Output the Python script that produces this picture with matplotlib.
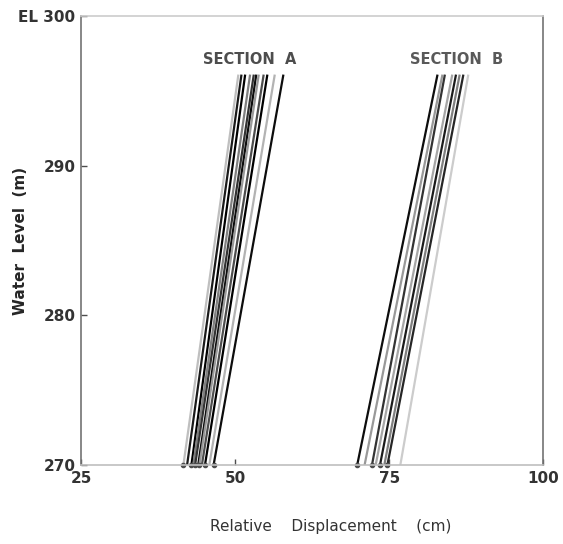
#!/usr/bin/env python3
import matplotlib
matplotlib.use("Agg")
import matplotlib.pyplot as plt

# line end points (displacement in cm at EL 270 and at EL 296)
level_bottom = 270
level_top = 296
sec_a_bottom = [41.6, 42.2, 42.9, 43.2, 43.5, 44.0, 44.2, 44.6, 45.1, 45.8, 46.5]
sec_a_top = [50.5, 51.0, 51.6, 52.4, 53.0, 53.4, 53.8, 54.6, 55.2, 56.4, 57.8]
sec_a_shade = ["0.75", "0.1", "0.0", "0.5", "0.2", "0.05", "0.6", "0.3", "0.0", "0.7", "0.05"]

sec_b_bottom = [69.8, 71.0, 72.2, 72.8, 73.5, 74.2, 74.7, 76.8]
sec_b_top = [82.8, 83.6, 84.0, 85.2, 85.8, 86.4, 87.0, 87.8]
sec_b_shade = ["0.05", "0.6", "0.2", "0.65", "0.1", "0.5", "0.15", "0.8"]

x_ticks = [25, 50, 75, 100]
y_ticks = [270, 280, 290, 300]
y_tick_labels = ["270", "280", "290", "EL 300"]


def plot_sections() -> None:
    fig = plt.figure(figsize=(5.63, 5.44), dpi=100)
    ax = fig.add_axes([0.144, 0.145, 0.821, 0.826])
    ax.set_xlim(25, 100)
    ax.set_ylim(270, 300)

    for xb, xt, c in zip(sec_a_bottom, sec_a_top, sec_a_shade):
        ax.plot([xb, xt], [level_bottom, level_top], color=c, lw=1.6)
    for xb, xt, c in zip(sec_b_bottom, sec_b_top, sec_b_shade):
        ax.plot([xb, xt], [level_bottom, level_top], color=c, lw=1.6)
    ax.plot(sec_a_bottom[::2] + sec_b_bottom[::2],
            [level_bottom] * len(sec_a_bottom[::2] + sec_b_bottom[::2]),
            "o", color="0.3", ms=3, clip_on=False)

    ax.text(52.3, 297.1, "SECTION  A", ha="center", va="center",
            fontsize=10.5, color="0.3", fontweight="bold")
    ax.text(85.9, 297.1, "SECTION  B", ha="center", va="center",
            fontsize=10.5, color="0.35", fontweight="bold")

    ax.set_xticks(x_ticks)
    ax.set_yticks(y_ticks)
    ax.set_yticklabels(y_tick_labels)
    ax.tick_params(direction="in", length=4, width=1, colors="0.3",
                   labelsize=11, pad=4)
    for lab in ax.get_xticklabels() + ax.get_yticklabels():
        lab.set_color("0.2")
        lab.set_fontweight("bold")

    ax.spines["left"].set_color("0.45")
    ax.spines["right"].set_color("0.45")
    ax.spines["top"].set_color("0.8")
    ax.spines["bottom"].set_color("0.75")
    for s in ax.spines.values():
        s.set_linewidth(1.2)

    ax.set_xlabel("Relative    Displacement    (cm)", fontsize=11,
                  color="0.2")
    ax.xaxis.set_label_coords(0.54, -0.12)
    ax.set_ylabel("Water  Level  (m)", fontsize=11, color="0.15",
                  fontweight="bold")
    ax.yaxis.set_label_coords(-0.115, 0.5)

    fig.savefig("out.png", dpi=100)
    plt.close(fig)


def main() -> None:
    plot_sections()


if __name__ == "__main__":
    main()
